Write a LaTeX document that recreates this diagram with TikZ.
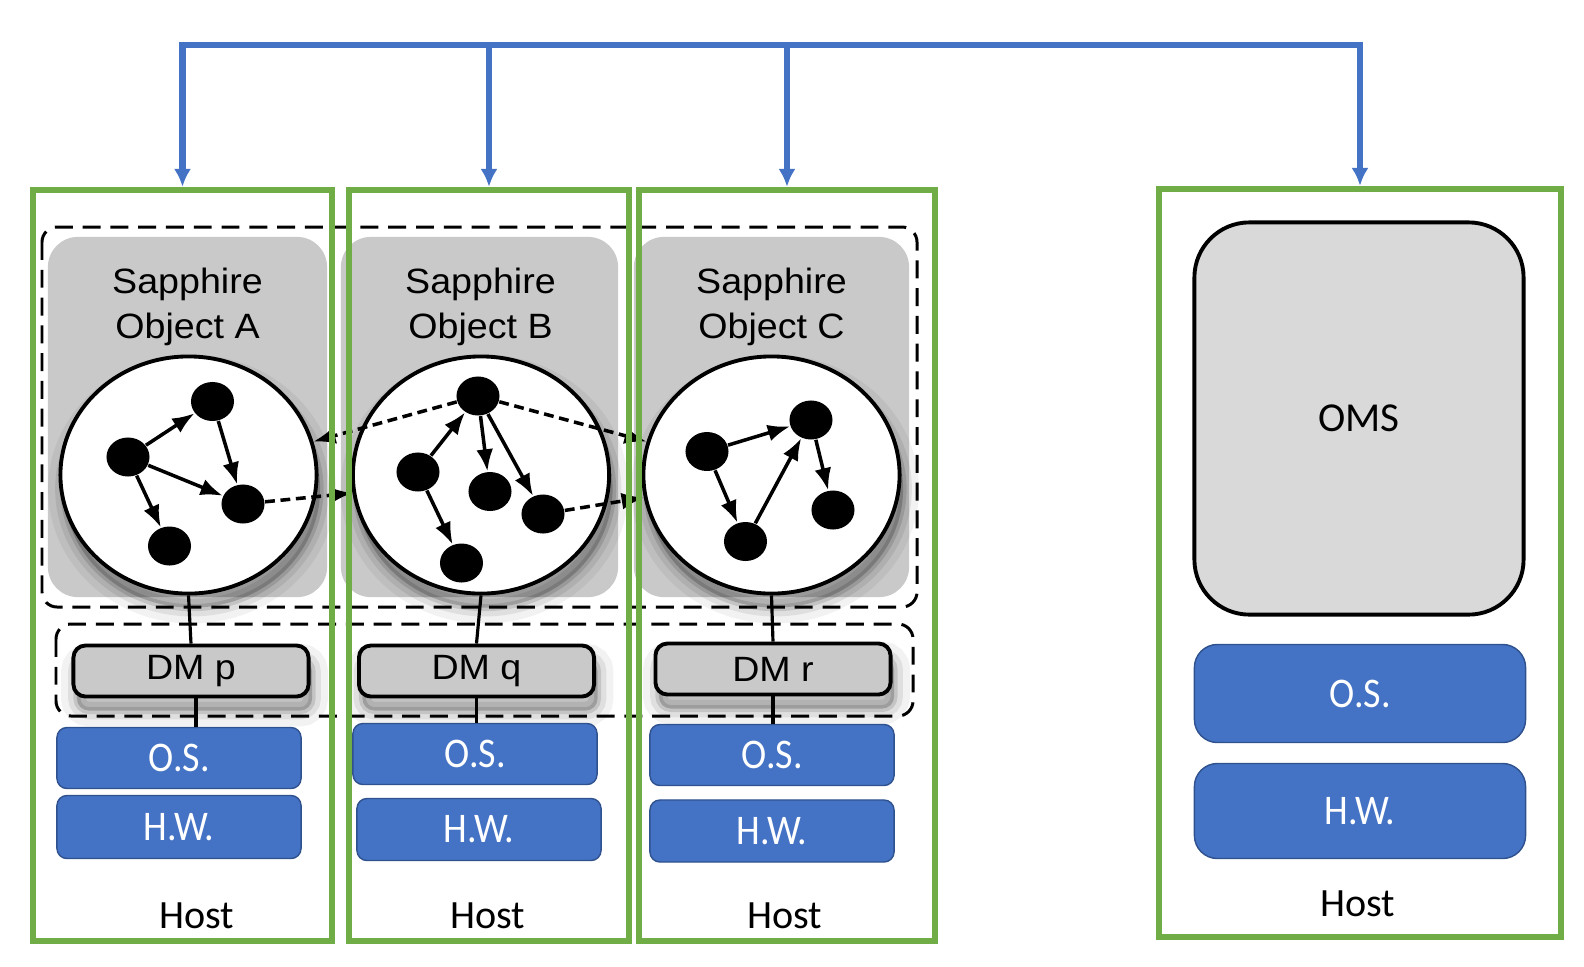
\documentclass[tikz,border=0pt]{standalone}
\usepackage{fontspec}
\setmainfont{Liberation Sans}[FakeStretch=1.07]
\newfontfamily\calibri{Carlito}
\newfontfamily\calibrinarrow{Carlito}[FakeStretch=0.9]
\usetikzlibrary{arrows.meta, shapes.geometric}
\definecolor{hostgreen}{HTML}{70AD47}
\definecolor{msblue}{HTML}{4472C4}
\definecolor{msborder}{HTML}{2F528F}
\definecolor{objgray}{HTML}{C9C9C9}
\definecolor{omsgray}{HTML}{D9D9D9}
\tikzset{>={Latex[length=6.3pt,width=4.8pt]}}
\tikzset{
  softshadow/.style={
    preaction={draw=black, draw opacity=0.05, line width=9pt, transform canvas={xshift=1pt, yshift=-4pt}},
    preaction={draw=black, draw opacity=0.08, line width=5pt, transform canvas={xshift=1pt, yshift=-4pt}},
    preaction={draw=black, draw opacity=0.12, line width=2pt, transform canvas={xshift=1pt, yshift=-4pt}},
    preaction={fill=black, fill opacity=0.2, transform canvas={xshift=1pt, yshift=-4pt}}},
  hostbox/.style={draw=hostgreen, line width=1.7pt, inner sep=0pt},
  bus/.style={draw=msblue, line width=1.8pt, >={Latex[length=5.1pt,width=4.9pt]}},
  groupbox/.style={draw, line width=0.85pt, dash pattern=on 5.1pt off 2.8pt, rounded corners=0.15cm},
  objbox/.style={fill=objgray, rounded corners=0.3cm, minimum height=3.6cm, inner sep=0pt},
  objtitle/.style={anchor=north, inner sep=0pt, font=\fontsize{10}{12.8}\selectfont, align=center},
  vm/.style={ellipse, draw, fill=white, line width=1.1pt, minimum width=2.56cm, minimum height=2.37cm, inner sep=0pt, softshadow},
  vertex/.style={ellipse, fill=black, minimum width=0.43cm, minimum height=0.39cm, inner sep=0pt},
  dotarrow/.style={->, line width=1pt},
  crosslink/.style={->, line width=1pt, dash pattern=on 2.8pt off 1.6pt},
  dmbox/.style={draw, fill=objgray, line width=1.1pt, rounded corners=0.12cm, minimum width=2.35cm, minimum height=0.51cm, inner sep=0pt, font=\fontsize{10}{12}\selectfont, softshadow},
  stackbox/.style={fill=msblue, draw=msborder, line width=0.4pt, rounded corners=0.1cm, text=white, minimum width=2.44cm, minimum height=0.61cm, inner sep=0pt, font=\calibrinarrow\fontsize{12}{14}\selectfont},
  hostlabel/.style={anchor=base, font=\calibri\fontsize{11.4}{13}\selectfont}
}
\begin{document}
\begin{tikzpicture}[x=0.01cm, y=-0.01cm]
\useasboundingbox (0,0) rectangle (1584,966);

% dashed groups
\draw[groupbox] (42,227) rectangle (917,607);
\draw[groupbox] (56,624) rectangle (913,716);

% sapphire objects
\node[objbox, minimum width=2.79cm] (objA) at (187.5,417) {};
\node[objbox, minimum width=2.77cm] (objB) at (479.5,417) {};
\node[objbox, minimum width=2.75cm] (objC) at (771.5,417) {};
\node[objtitle] (titleA) at (187.5,267) {Sapphire\\Object A};
\node[objtitle] (titleB) at (480.5,267) {Sapphire\\Object B};
\node[objtitle] (titleC) at (771.5,267) {Sapphire\\Object C};

\node[vm] (circA) at (188.5,475) {};
\node[vm] (circB) at (481,475) {};
\node[vm] (circC) at (771.5,475) {};

% object graph A
\node[vertex] (a1) at (128,457) {};
\node[vertex] (a2) at (212.5,401.5) {};
\node[vertex] (a3) at (243,504) {};
\node[vertex] (a4) at (169.5,546) {};
\draw[dotarrow] (a1) -- (a2);
\draw[dotarrow] (a2) -- (a3);
\draw[dotarrow] (a1) -- (a3);
\draw[dotarrow] (a1) -- (a4);

% object graph B
\node[vertex] (b1) at (478,396) {};
\node[vertex] (b2) at (418,472) {};
\node[vertex] (b3) at (490,491.5) {};
\node[vertex] (b4) at (543,514) {};
\node[vertex] (b5) at (461.5,563) {};
\draw[dotarrow] (b2) -- (b1);
\draw[dotarrow] (b1) -- (b3);
\draw[dotarrow] (b1) -- (b4);
\draw[dotarrow] (b2) -- (b5);

% object graph C
\node[vertex] (c1) at (707,451.5) {};
\node[vertex] (c2) at (811,420) {};
\node[vertex] (c3) at (833,510) {};
\node[vertex] (c4) at (745.5,541.5) {};
\draw[dotarrow] (c1) -- (c2);
\draw[dotarrow] (c1) -- (c4);
\draw[dotarrow] (c4) -- (c2);
\draw[dotarrow] (c2) -- (c3);

% references between objects
\draw[crosslink] (a3) -- (circB.188);
\draw[crosslink] (b1) -- (circA.15);
\draw[crosslink] (b1) -- (circC.165);
\draw[crosslink] (b4) -- (circC.190);

% data managers
\node[dmbox] (dmp) at (191,671) {DM p};
\node[dmbox] (dmq) at (476.5,671) {DM q};
\node[dmbox] (dmr) at (773,669) {DM r};

% os and hardware
\node[stackbox] (osA) at (179,758) {O.S.};
\node[stackbox, minimum height=0.63cm] (hwA) at (179,827) {H.W.};
\node[stackbox] (osB) at (475,754) {O.S.};
\node[stackbox, minimum height=0.62cm] (hwB) at (479,829.5) {H.W.};
\node[stackbox] (osC) at (772,755) {O.S.};
\node[stackbox, minimum height=0.62cm] (hwC) at (772,831) {H.W.};

\draw[line width=0.9pt] (circA.south) -- (dmp.north);
\draw[line width=0.9pt] (circB.south) -- (dmq.north);
\draw[line width=0.9pt] (circC.south) -- (dmr.north);
\draw[line width=0.9pt] ([xshift=0.05cm]dmp.south) -- ([xshift=0.05cm]dmp.south |- osA.north);
\draw[line width=0.9pt] (dmq.south) -- (dmq.south |- osB.north);
\draw[line width=0.9pt] (dmr.south) -- (dmr.south |- osC.north);

% oms host
\node[draw, fill=omsgray, line width=1.1pt, rounded corners=0.55cm, minimum width=3.29cm, minimum height=3.92cm, font=\calibri\fontsize{11.7}{13}\selectfont] (oms) at (1359,418.5) {OMS};
\node[stackbox, minimum width=3.31cm, minimum height=0.98cm, rounded corners=0.23cm] (osD) at (1360,693.5) {O.S.};
\node[stackbox, minimum width=3.31cm, minimum height=0.95cm, rounded corners=0.23cm] (hwD) at (1360,811) {H.W.};

% hosts
\node[hostbox, minimum width=2.99cm, minimum height=7.51cm] (hostA) at (182.5,565.5) {};
\node[hostbox, minimum width=2.80cm, minimum height=7.51cm] (hostB) at (489,565.5) {};
\node[hostbox, minimum width=2.96cm, minimum height=7.51cm] (hostC) at (787,565.5) {};
\node[hostbox, minimum width=4.02cm, minimum height=7.48cm] (hostD) at (1360,563) {};
\node[hostlabel] (labA) at (196.5,928) {Host};
\node[hostlabel] (labB) at (488,928) {Host};
\node[hostlabel] (labC) at (785,928) {Host};
\node[hostlabel] (labD) at (1358,916) {Host};

% replication links
\coordinate (bus) at (0,45);
\draw[bus, <->] (hostA.north) -- (hostA.north |- bus) -- (hostD.north |- bus) -- (hostD.north);
\draw[bus, ->] (hostB.north |- bus) -- (hostB.north);
\draw[bus, ->] (hostC.north |- bus) -- (hostC.north);
\end{tikzpicture}
\end{document}
